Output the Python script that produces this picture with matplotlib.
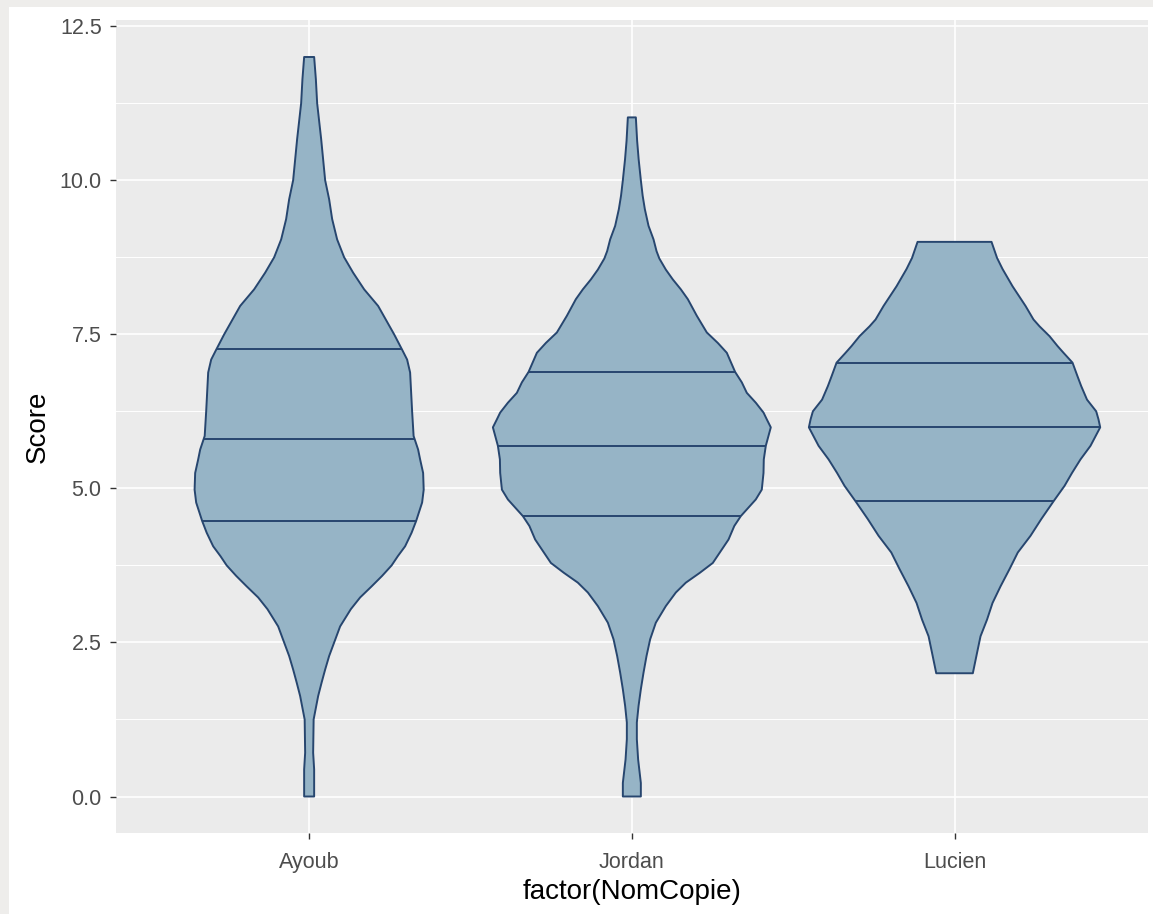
import matplotlib.pyplot as plt
import numpy as np
from matplotlib.patches import Rectangle

plt.rcParams["font.family"] = ["Liberation Sans", "DejaVu Sans"]

# groups on the discrete x axis
names = ["Ayoub", "Jordan", "Lucien"]

# violin outlines: score levels and half-width (x-axis units)
ayoub_scores = [12.0, 11.64, 11.25, 10.67, 10.0, 9.69, 9.37, 9.04, 8.75, 8.50, 8.23,
                7.96, 7.5, 7.25, 7.09, 6.88, 6.25, 5.85, 5.63, 5.47, 5.25, 4.98,
                4.77, 4.47, 4.28, 4.06, 3.90, 3.75, 3.58, 3.41, 3.23, 3.04, 2.76,
                2.52, 2.28, 2.06, 1.85, 1.63, 1.25, 0.71, 0.44, 0.0]
ayoub_half = [0.0155, 0.0208, 0.0248, 0.0372, 0.0496, 0.062, 0.0713, 0.0867, 0.1084,
              0.1363, 0.1704, 0.2138, 0.2633, 0.2881, 0.3036, 0.3129, 0.3191, 0.3237,
              0.3377, 0.3439, 0.3532, 0.355, 0.3501, 0.3315, 0.3175, 0.2974, 0.2748,
              0.2556, 0.2261, 0.1936, 0.158, 0.1292, 0.096, 0.079, 0.062, 0.0496,
              0.0387, 0.0279, 0.0139, 0.0124, 0.0155, 0.0155]

jordan_scores = [11.02, 10.64, 10.34, 10.0, 9.75, 9.53, 9.26, 9.04, 8.85, 8.73, 8.55,
                 8.39, 8.23, 8.07, 7.80, 7.53, 7.36, 7.20, 6.89, 6.72, 6.55, 6.39,
                 6.23, 6.12, 5.99, 5.69, 5.47, 5.25, 4.98, 4.82, 4.55, 4.39, 4.17,
                 3.79, 3.63, 3.47, 3.31, 3.09, 2.82, 2.55, 2.28, 2.01, 1.74, 1.47,
                 1.20, 0.93, 0.6, 0.22, 0.0]
jordan_half = [0.0124, 0.0164, 0.0211, 0.0279, 0.0335, 0.0403, 0.0517, 0.0672, 0.0765,
               0.0852, 0.1053, 0.127, 0.1518, 0.1735, 0.2014, 0.2323, 0.2664, 0.2943,
               0.32, 0.3408, 0.3563, 0.3841, 0.408, 0.4182, 0.4306, 0.4151, 0.4089,
               0.408, 0.4027, 0.3841, 0.3377, 0.3175, 0.2996, 0.2509, 0.2107, 0.1673,
               0.1363, 0.1053, 0.0743, 0.0567, 0.0455, 0.0362, 0.0279, 0.0208, 0.0155,
               0.0155, 0.0195, 0.0279, 0.0279]

lucien_scores = [9.0, 8.74, 8.56, 8.28, 7.96, 7.74, 7.63, 7.47, 7.31, 7.20, 7.04,
                 6.82, 6.66, 6.44, 6.25, 6.12, 5.99, 5.69, 5.47, 5.25, 5.04, 4.79,
                 4.50, 4.23, 3.96, 3.69, 3.41, 3.14, 2.87, 2.60, 2.33, 2.0]
lucien_half = [0.1146, 0.1317, 0.1487, 0.1797, 0.22, 0.2447, 0.2633, 0.2943, 0.3191,
               0.3377, 0.3656, 0.381, 0.3925, 0.4105, 0.439, 0.4461, 0.4514, 0.4213,
               0.3903, 0.364, 0.3408, 0.3067, 0.2686, 0.2354, 0.1961, 0.1704, 0.1425,
               0.1177, 0.1007, 0.0805, 0.0697, 0.0567]

# draw_quantiles = c(0.25, 0.5, 0.75)
ayoub_q = [4.47, 5.80, 7.26]
jordan_q = [4.55, 5.69, 6.89]
lucien_q = [4.79, 5.99, 7.04]

fill_color = "#96B4C6"
edge_color = "#27466F"

fig = plt.figure(figsize=(11.53, 9.14), dpi=100, facecolor="#EEEDEB")
fig.add_artist(Rectangle((9 / 1153, 0), 1, 1 - 7 / 914, transform=fig.transFigure,
                         facecolor="white", edgecolor="none", zorder=-1))
ax = fig.add_axes([0.1002, 0.0881, 0.8956, 0.8900])
ax.set_facecolor("#EBEBEB")

violins = [
    (ayoub_scores, ayoub_half, ayoub_q),
    (jordan_scores, jordan_half, jordan_q),
    (lucien_scores, lucien_half, lucien_q),
]
for pos, (scores, half, quant) in enumerate(violins, start=1):
    scores = np.array(scores)
    half = np.array(half)
    xs = np.concatenate([pos - half, (pos + half)[::-1]])
    ys = np.concatenate([scores, scores[::-1]])
    patch = ax.fill(xs, ys, facecolor=fill_color, edgecolor=edge_color,
                    linewidth=1.4, joinstyle="round", zorder=3)[0]
    lines = ax.hlines(quant, pos - 0.5, pos + 0.5, color=edge_color,
                      linewidth=1.4, zorder=4)
    lines.set_clip_path(patch)

ax.set_xlim(0.4, 3.6)
ax.set_ylim(-0.6, 12.6)
ax.set_xticks([1, 2, 3])
ax.set_xticklabels(names)
ax.set_yticks([0, 2.5, 5, 7.5, 10, 12.5])
ax.set_yticklabels(["0.0", "2.5", "5.0", "7.5", "10.0", "12.5"])
ax.set_yticks([1.25, 3.75, 6.25, 8.75, 11.25], minor=True)

ax.grid(True, which="major", color="white", linewidth=1.2, zorder=0)
ax.grid(True, which="minor", axis="y", color="white", linewidth=0.7, zorder=0)
ax.set_axisbelow(True)
for spine in ax.spines.values():
    spine.set_visible(False)

ax.tick_params(axis="both", which="major", length=4, width=1.0, color="#333333",
               labelcolor="#4D4D4D", labelsize=15.5)
ax.tick_params(axis="y", which="major", pad=6)
ax.tick_params(axis="x", which="major", pad=9)
ax.tick_params(axis="both", which="minor", length=0)

ax.set_xlabel("factor(NomCopie)", fontsize=20, labelpad=5)
ax.set_ylabel("Score", fontsize=20, labelpad=6)

fig.savefig("out.png", dpi=100)
